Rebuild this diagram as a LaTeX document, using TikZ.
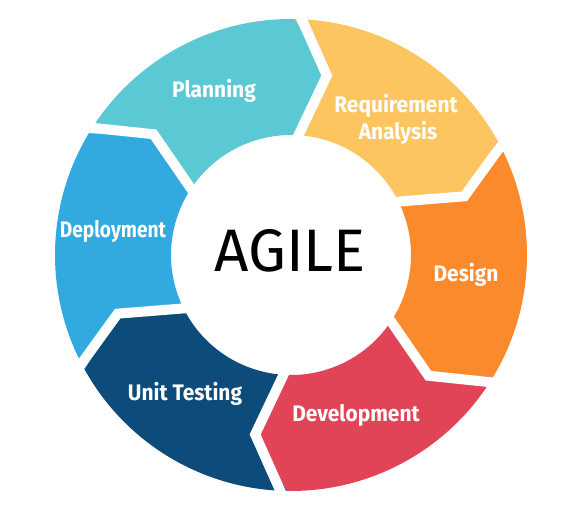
\documentclass[tikz,border=0pt]{standalone}
\usepackage{fontspec}
\setmainfont{Fira Sans}
\definecolor{planteal}{HTML}{5BC9D4}
\definecolor{reqyellow}{HTML}{FDC55F}
\definecolor{designorange}{HTML}{FB8A2C}
\definecolor{devred}{HTML}{E04456}
\definecolor{testnavy}{HTML}{0D4C7A}
\definecolor{deployblue}{HTML}{33AADF}
\newcommand{\narrowlabel}[2][0.93]{\scalebox{#1}[1]{#2}}
\tikzset{
  phase/.style={text=white, font=\bfseries\fontsize{22.5}{26}\selectfont, anchor=base, inner sep=0pt},
  gap/.style={draw=white, line width=10pt, line join=miter}
}

\begin{document}
\begin{tikzpicture}[x=1pt,y=1pt]
  \useasboundingbox[fill=white] (0,0) rectangle (580,510);

  \begin{scope}[shift={(291,255)}]
    % ring segments, clockwise
    \fill[planteal] (149:236pt) -- (138.7:183pt) -- (149:120pt) arc[start angle=149, end angle=89, radius=120pt] -- (78.7:183pt) -- (89:236pt) arc[start angle=89, end angle=149, radius=236pt] -- cycle;
    \fill[reqyellow] (89:236pt) -- (78.7:183pt) -- (89:120pt) arc[start angle=89, end angle=29, radius=120pt] -- (18.7:183pt) -- (29:236pt) arc[start angle=29, end angle=89, radius=236pt] -- cycle;
    \fill[designorange] (29:236pt) -- (18.7:183pt) -- (29:120pt) arc[start angle=29, end angle=-31, radius=120pt] -- (-41.3:183pt) -- (-31:236pt) arc[start angle=-31, end angle=29, radius=236pt] -- cycle;
    \fill[devred] (-31:236pt) -- (-41.3:183pt) -- (-31:120pt) arc[start angle=-31, end angle=-91, radius=120pt] -- (-101.3:183pt) -- (-91:236pt) arc[start angle=-91, end angle=-31, radius=236pt] -- cycle;
    \fill[testnavy] (-91:236pt) -- (-101.3:183pt) -- (-91:120pt) arc[start angle=-91, end angle=-151, radius=120pt] -- (-161.3:183pt) -- (-151:236pt) arc[start angle=-151, end angle=-91, radius=236pt] -- cycle;
    \fill[deployblue] (209:236pt) -- (198.7:183pt) -- (209:120pt) arc[start angle=209, end angle=149, radius=120pt] -- (138.7:183pt) -- (149:236pt) arc[start angle=149, end angle=209, radius=236pt] -- cycle;

    % white cuts between segments
    \draw[gap] (89:250pt) -- (78.7:183pt) -- (89:108pt);
    \draw[gap] (29:250pt) -- (18.7:183pt) -- (29:108pt);
    \draw[gap] (-31:250pt) -- (-41.3:183pt) -- (-31:108pt);
    \draw[gap] (-91:250pt) -- (-101.3:183pt) -- (-91:108pt);
    \draw[gap] (-151:250pt) -- (-161.3:183pt) -- (-151:108pt);
    \draw[gap] (149:250pt) -- (138.7:183pt) -- (149:108pt);
  \end{scope}

  \node[font=\fontsize{60}{60}\selectfont, anchor=base, inner sep=0pt] (agile) at (290,238) {AGILE};

  \node[phase] (planning) at (214,412) {\narrowlabel{Planning}};
  \node[phase] (requirement) at (396,397) {\narrowlabel{Requirement}};
  \node[phase] (analysis) at (398,370) {\narrowlabel{Analysis}};
  \node[phase] (design) at (466,228) {\narrowlabel{Design}};
  \node[phase] (development) at (356,88) {\narrowlabel{Development}};
  \node[phase] (unittesting) at (185,109) {\narrowlabel{Unit Testing}};
  \node[phase] (deployment) at (113,272) {\narrowlabel[0.85]{Deployment}};
\end{tikzpicture}
\end{document}
